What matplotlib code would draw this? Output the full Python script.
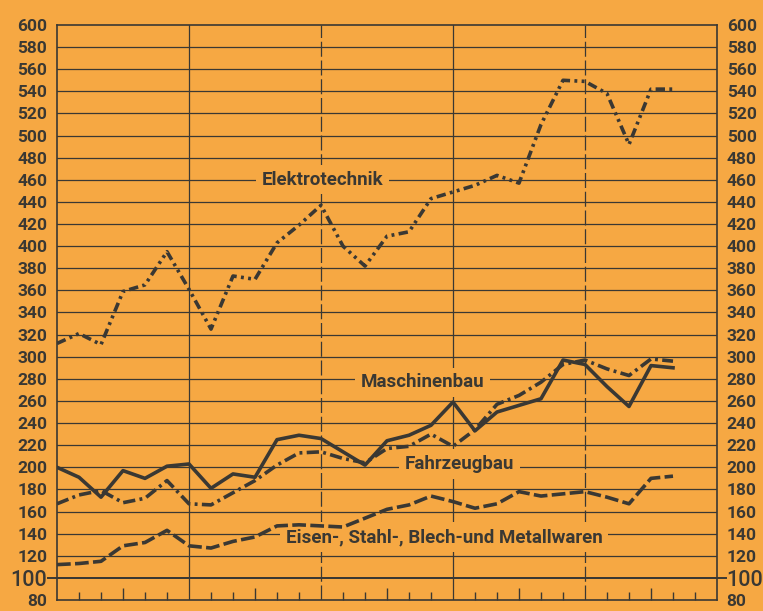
import matplotlib
matplotlib.use("Agg")
import matplotlib.pyplot as plt

# data (index = step along the time axis)
steps = list(range(29))
elektrotechnik = [312, 321, 311, 359, 365, 395, 361, 325, 373, 370, 403, 419, 437, 400, 382,
                  409, 413, 443, 449, 455, 464, 457, 510, 550, 549, 538, 492, 542, 542]
maschinenbau = [200, 191, 173, 197, 190, 201, 203, 181, 194, 191, 225, 229, 226, 214, 202,
                224, 229, 238, 259, 233, 250, 256, 262, 297, 293, 273, 255, 292, 290]
fahrzeugbau = [167, 175, 179, 168, 172, 188, 167, 166, 177, 188, 202, 213, 214, 208, 204,
               217, 219, 230, 219, 234, 257, 265, 277, 293, 297, 289, 283, 298, 296]
eisen = [112, 113, 115, 129, 132, 143, 129, 127, 133, 137, 147, 148, 147, 146, 154,
         162, 166, 174, 169, 163, 167, 178, 174, 176, 178, 173, 167, 190, 192]
y_ticks = list(range(80, 601, 20))

bg = "#F6A843"
ink = "#3a3833"
plt.rcParams['font.family'] = ['Roboto', 'DejaVu Sans']

fig = plt.figure(figsize=(7.63, 6.11), dpi=100, facecolor=bg)
ax = fig.add_axes([57/763, 1-600/611, 660/763, 575/611], facecolor=bg)
ax.set_xlim(0, 30)
ax.set_ylim(80, 600)

# horizontal grid
for v in y_ticks[1:-1]:
    ax.axhline(v, color=ink, lw=1.4 if v == 100 else 0.9, zorder=1)
# 100 line sticks out on both sides
ax.plot([-0.014, 1.014], [100, 100], transform=ax.get_yaxis_transform(), color=ink,
        lw=1.4, clip_on=False, zorder=1)

# vertical lines
for x, ls in [(6, "-"), (12, (0, (12, 3))), (18, "-"), (24, (0, (12, 3)))]:
    ax.axvline(x, color=ink, lw=0.9, linestyle=ls, zorder=1)

for s in ax.spines.values():
    s.set_color(ink)
    s.set_linewidth(1.2)

# ticks along the bottom
ax.set_xticks([i for i in range(1, 30) if i % 6 == 3])
ax.set_xticks([i for i in range(1, 30) if i % 6 not in (0, 3)], minor=True)
ax.tick_params(axis="x", which="major", direction="in", length=9, width=1, color=ink, labelbottom=False)
ax.tick_params(axis="x", which="minor", direction="in", length=6, width=1, color=ink)

# y labels both sides
ax.set_yticks(y_ticks)
ax.set_yticklabels([str(v) for v in y_ticks])
ax.tick_params(axis="y", length=0, pad=7, labelsize=12.5, labelcolor=ink,
               left=True, right=True, labelleft=True, labelright=True)
for t in ax.yaxis.get_major_ticks():
    for lab in (t.label1, t.label2):
        lab.set_fontweight("bold")
        if lab.get_text() == "100":
            lab.set_fontsize(15.5)
            lab.set_fontweight("medium")

lw = 2.6
ax.plot(steps, elektrotechnik, color=ink, lw=lw, dashes=(2.6, 1.2, 0.8, 1.2, 0.8, 1.2), zorder=3)
ax.plot(steps, maschinenbau, color=ink, lw=lw, zorder=3)
ax.plot(steps, fahrzeugbau, color=ink, lw=lw, dashes=(3.4, 1.2, 0.8, 1.2), zorder=3)
ax.plot(steps, eisen, color=ink, lw=lw, dashes=(3.8, 1.2), zorder=3)

box = dict(boxstyle="square,pad=0.3", fc=bg, ec="none")
txt = dict(color=ink, fontsize=13.5, fontweight="bold", ha="center", va="center", zorder=2, bbox=box)
ax.text(12.05, 460, "Elektrotechnik", **txt)
ax.text(16.6, 277, "Maschinenbau", **txt)
ax.text(18.3, 203, "Fahrzeugbau", **txt)
ax.text(17.6, 137, "Eisen-, Stahl-, Blech-und Metallwaren", **txt)

fig.savefig("out.png", dpi=100, facecolor=bg)
